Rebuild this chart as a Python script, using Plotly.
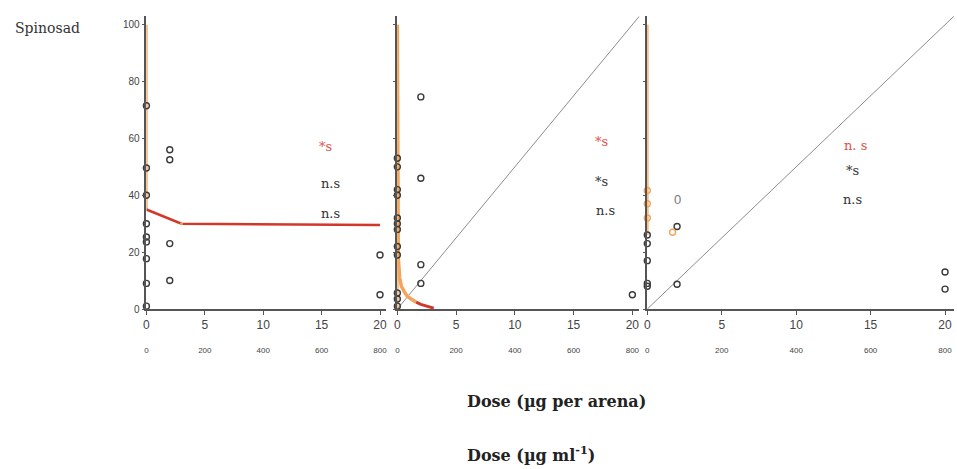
import plotly.graph_objects as go

W, H = 957, 469

# ---- data ----
# panel 1
p1_zero_y = [71.5, 49.6, 40, 30, 25.3, 23.6, 17.7, 9, 1]
p1_two_y = [56, 52.5, 23, 10]
p1_twenty_y = [19, 5]
p1_orange_y = [35, 100]
p1_fit_x = [0, 3, 20]
p1_fit_y = [35, 30, 29.5]

# panel 2
p2_zero_y = [53, 50, 42, 40, 32, 30, 28, 22, 19, 5.6, 3.5, 1]
p2_two_y = [74.6, 46, 15.6, 9]
p2_twenty_y = [5]
p2_orange_x = [0, 0.03, 0.08, 0.2, 0.34, 0.6, 0.85, 1.2, 1.6]
p2_orange_y = [100, 40, 18, 11, 8, 6, 4.5, 3.4, 2.4]
p2_red_x = [1.6, 2.0, 2.5, 3.1]
p2_red_y = [2.4, 1.6, 1.0, 0.3]

# panel 3
p3_zero_y = [26, 23, 17, 9, 8]
p3_zero_orange_y = [41.7, 37, 32]
p3_orange_y = [26, 100]
p3_two_y = [29, 8.7]
p3_two_orange = (1.7, 27)
p3_twenty_y = [13, 7]

diag_x = [0, 20.6]
diag_y = [0, 103]

dose_ticks = [0, 5, 10, 15, 20]
conc_ticks = [0, 200, 400, 600, 800]

# significance labels per panel (text, colour)
sig1 = [("*s", "#e0504a"), ("n.s", "#333333"), ("n.s", "#333333")]
sig2 = [("*s", "#e0504a"), ("*s", "#333333"), ("n.s", "#333333")]
sig3 = [("n. s", "#e0504a"), ("*s", "#333333"), ("n.s", "#333333")]

ORANGE = "#f2a55a"
RED = "#d2372a"
DOT = "#3a3a3a"
GRID = "#8c8c8c"


def px(x):
    return x / W


def py(y):
    return 1 - y / H


fig = go.Figure()


def circles(x, y, ax, color=DOT):
    fig.add_trace(go.Scatter(
        x=x, y=y, mode="markers", xaxis=ax[0], yaxis=ax[1],
        marker=dict(symbol="circle-open", size=6, color=color, line=dict(width=1.4, color=color)),
        cliponaxis=False, showlegend=False, hoverinfo="skip"))


def line(x, y, ax, color, width, mode="lines"):
    fig.add_trace(go.Scatter(
        x=x, y=y, mode=mode, xaxis=ax[0], yaxis=ax[1],
        line=dict(color=color, width=width), marker=dict(size=3, color=color),
        cliponaxis=False, showlegend=False, hoverinfo="skip"))


A1, A2, A3 = ("x", "y"), ("x2", "y2"), ("x3", "y3")

# panel 1
line([0, 0], p1_orange_y, A1, ORANGE, 2.5)
line(p1_fit_x, p1_fit_y, A1, RED, 2.5)
line([p1_fit_x[1]], [p1_fit_y[1]], A1, ORANGE, 1, mode="markers")
circles([0] * len(p1_zero_y), p1_zero_y, A1)
circles([2] * len(p1_two_y), p1_two_y, A1)
circles([20] * len(p1_twenty_y), p1_twenty_y, A1)

# panel 2
line(diag_x, diag_y, A2, GRID, 1)
line([0, 0], [0, 100], A2, ORANGE, 2.5)
line(p2_orange_x, p2_orange_y, A2, ORANGE, 3.5)
line(p2_red_x, p2_red_y, A2, RED, 3)
circles([0] * len(p2_zero_y), p2_zero_y, A2)
circles([2] * len(p2_two_y), p2_two_y, A2)
circles([20] * len(p2_twenty_y), p2_twenty_y, A2)

# panel 3
line(diag_x, diag_y, A3, GRID, 1)
line([0, 0], p3_orange_y, A3, ORANGE, 2.5)
circles([0] * len(p3_zero_orange_y), p3_zero_orange_y, A3, ORANGE)
circles([0] * len(p3_zero_y), p3_zero_y, A3)
circles([2] * len(p3_two_y), p3_two_y, A3)
circles([p3_two_orange[0]], [p3_two_orange[1]], A3, ORANGE)
circles([20] * len(p3_twenty_y), p3_twenty_y, A3)

# axis geometry (pixels)
panels = [
    dict(x0=144, scale=11.73, xmax=20.5),
    dict(x0=396, scale=11.8, xmax=20.6),
    dict(x0=647, scale=14.95, xmax=20.6),
]
y0_px, y_scale, ymax = 313, 2.88, 103
ydom = [py(y0_px), py(y0_px - ymax * y_scale)]

SANS = "Liberation Sans Narrow, Liberation Sans, Arial"
TICKFONT = dict(family=SANS, size=12, color="#444")
SMALLFONT = dict(family=SANS, size=8, color="#444")

layout = dict(
    width=W, height=H, margin=dict(l=0, r=0, t=0, b=0),
    paper_bgcolor="white", plot_bgcolor="rgba(0,0,0,0)",
    showlegend=False,
)

for i, p in enumerate(panels, start=1):
    sfx = "" if i == 1 else str(i)
    dom = [px(p["x0"]), px(p["x0"] + p["xmax"] * p["scale"])]
    layout["xaxis" + sfx] = dict(
        domain=dom, range=[0, p["xmax"]], anchor="y" + sfx,
        showgrid=False, zeroline=False, showline=True, linecolor="#555", linewidth=1.5,
        ticks="outside", ticklen=4, tickcolor="#555", tickvals=dose_ticks,
        tickfont=TICKFONT, fixedrange=True,
    )
    layout["yaxis" + sfx] = dict(
        domain=ydom, range=[0, ymax], anchor="x" + sfx,
        showgrid=False, zeroline=False, showline=True, linecolor="#555", linewidth=1.5,
        ticks="outside", ticklen=3, tickcolor="#555", tickvals=[0, 20, 40, 60, 80, 100],
        showticklabels=(i == 1), tickfont=dict(family=SANS, size=10, color="#444"),
        fixedrange=True,
    )
    # concentration scale shown beneath the dose scale
    layout["xaxis" + str(i + 3)] = dict(
        overlaying="x" + sfx, anchor="free", position=py(348), side="bottom",
        range=[0, p["xmax"] * 40], tickvals=conc_ticks, ticks="",
        showgrid=False, zeroline=False, showline=False, tickfont=SMALLFONT, fixedrange=True,
    )

fig.update_layout(**layout)

# placeholder traces so the concentration axes render
for i in range(3):
    fig.add_trace(go.Scatter(x=[None], y=[None], xaxis="x" + str(i + 4), yaxis="y" if i == 0 else "y" + str(i + 1),
                             showlegend=False, hoverinfo="skip"))

SERIF = "DejaVu Serif, Liberation Serif, serif"
ann = []

sig_pos = [
    (A1, [(15.3, 57), (15.8, 44), (15.8, 33.5)]),
    (A2, [(17.4, 59), (17.4, 45), (17.7, 34.6)]),
    (A3, [(14.0, 57.5), (13.8, 48.6), (13.8, 38.5)]),
]
for (ax, positions), sig in zip(sig_pos, [sig1, sig2, sig3]):
    for (x, y), (txt, col) in zip(positions, sig):
        ann.append(dict(x=x, y=y, xref=ax[0], yref=ax[1], text=txt, showarrow=False,
                        font=dict(family=SERIF, size=13, color=col)))

ann.append(dict(x=2, y=38.5, xref="x3", yref="y3", text="0", showarrow=False,
                font=dict(family="Liberation Sans, Arial", size=13, color="#777")))

ann.append(dict(x=px(10), y=py(28), xref="paper", yref="paper", xanchor="left", yanchor="middle",
                text="Spinosad", showarrow=False, font=dict(family=SERIF, size=14, color="#333")))
ann.append(dict(x=px(464), y=py(407), xref="paper", yref="paper", xanchor="left", yanchor="middle",
                text="<b>Dose (µg per arena)</b>", showarrow=False,
                font=dict(family=SERIF, size=16, color="#222")))
ann.append(dict(x=px(464), y=py(460), xref="paper", yref="paper", xanchor="left", yanchor="middle",
                text="<b>Dose (µg ml<sup>-1</sup>)</b>", showarrow=False,
                font=dict(family=SERIF, size=16, color="#222")))

fig.update_layout(annotations=ann)

fig.write_html("out.html")
